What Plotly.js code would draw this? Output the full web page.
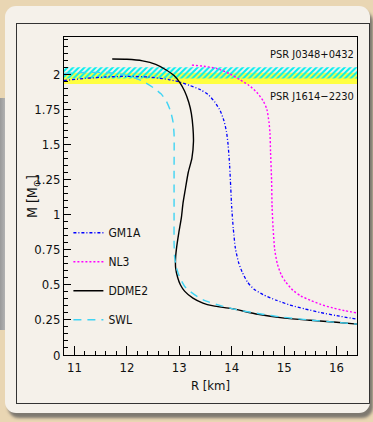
<!DOCTYPE html>
<html><head><meta charset="utf-8">
<script src="https://cdn.plot.ly/plotly-3.0.1.min.js"></script>
<style>
html,body{margin:0;padding:0;width:373px;height:422px;overflow:hidden;background:#e9d6b3;}
#strip{position:absolute;left:0;top:98px;width:9px;height:232px;background:linear-gradient(90deg,#9a9a9a,#c4c4c4);}
#panel{position:absolute;left:5px;top:6px;width:365px;height:407px;background:#f5f1ea;border-radius:11px;box-shadow:3px 5px 3px rgba(90,90,90,0.75);overflow:hidden;}
#frame{position:absolute;left:11px;top:17px;width:352px;height:379px;border:1.5px solid #333;}
#chart{position:absolute;left:0;top:0;width:373px;height:422px;}
</style></head><body>
<div id="strip"></div>
<div id="panel"><div id="frame"></div></div>
<div id="chart"></div>
<script>
// Data
const gm1aR = [10.8,11.2,11.6,12.0,12.4,12.8,13.0,13.2,13.4,13.55,13.68,13.78,13.85,13.9,13.93,13.96,13.98,14.0,14.03,14.07,14.13,14.2,14.3,14.42,14.6,14.85,15.11,15.4,15.7,16.0,16.39];
const gm1aM = [1.955,1.97,1.98,1.985,1.98,1.962,1.945,1.92,1.89,1.855,1.80,1.74,1.67,1.59,1.50,1.35,1.2,1.05,0.9,0.76,0.66,0.59,0.52,0.47,0.43,0.39,0.356,0.328,0.302,0.28,0.256];
const nl3R = [13.24,13.5,13.72,13.95,14.16,14.33,14.48,14.6,14.67,14.71,14.73,14.74,14.76,14.77,14.79,14.82,14.87,14.94,15.03,15.17,15.32,15.5,15.7,15.93,16.15,16.39];
const nl3M = [2.065,2.055,2.04,2.005,1.96,1.92,1.87,1.81,1.75,1.66,1.58,1.45,1.25,1.05,0.9,0.75,0.65,0.575,0.52,0.46,0.42,0.39,0.36,0.335,0.316,0.30];
const ddme2R = [11.72,12.0,12.3,12.55,12.75,12.9,13.01,13.1,13.18,13.23,13.26,13.27,13.24,13.17,13.11,13.07,13.04,12.99,12.95,12.93,12.93,12.97,13.02,13.1,13.26,13.45,13.65,14.0,14.5,15.0,15.5,16.0,16.39];
const ddme2M = [2.108,2.106,2.095,2.07,2.03,1.99,1.94,1.88,1.80,1.72,1.62,1.52,1.40,1.30,1.17,1.08,0.98,0.87,0.77,0.70,0.62,0.55,0.50,0.455,0.405,0.37,0.35,0.33,0.29,0.263,0.247,0.233,0.22];
const swlR = [10.8,11.2,11.6,11.9,12.1,12.3,12.5,12.65,12.75,12.83,12.88,12.9,12.9,12.9,12.9,12.91,12.94,13.0,13.1,13.2,13.35,13.5,13.82,14.1,14.5,15.0,15.5,16.0,16.39];
const swlM = [2.005,2.012,2.012,2.0,1.98,1.95,1.905,1.86,1.81,1.74,1.66,1.57,1.3,1.0,0.8,0.7,0.63,0.56,0.49,0.455,0.415,0.385,0.348,0.322,0.296,0.268,0.249,0.233,0.22];
// Pulsar mass constraints (M, error)
const psrJ0348 = [2.01, 0.04];
const psrJ1614 = [1.97, 0.04];
const xRange = [10.8, 16.39];
const yRange = [0, 2.265];
const yTicks = [0,0.25,0.5,0.75,1,1.25,1.5,1.75,2];
const xTicks = [11,12,13,14,15,16];

const FONT = '"Liberation Sans Narrow","Arial Narrow","DejaVu Sans Condensed","Liberation Sans",sans-serif';

function band(c, color, pattern){
  const lo = c[0]-c[1], hi = c[0]+c[1];
  const t = {x:[xRange[0],xRange[1],xRange[1],xRange[0],xRange[0]], y:[lo,lo,hi,hi,lo],
    mode:'none', fill:'toself', showlegend:false, hoverinfo:'skip'};
  if(pattern){ t.fillcolor='rgba(0,0,0,0)'; t.fillpattern={shape:'/',fgcolor:color,bgcolor:'rgba(0,0,0,0)',size:4,solidity:0.5}; }
  else t.fillcolor=color;
  return t;
}
const SM = {shape:'spline',smoothing:0.6};
const traces = [
  band(psrJ1614,'#ffff40',false),
  band(psrJ0348,'#00f0f0',true),
  {x:gm1aR,y:gm1aM,name:'GM1A',mode:'lines',line:Object.assign({color:'#0000ff',width:1.3,dash:'3px,2px,1px,2px'},SM),legendgroup:'a'},
  {x:nl3R,y:nl3M,name:'NL3',mode:'lines',line:Object.assign({color:'#ff00ff',width:1.4,dash:'2px,2px'},SM),legendgroup:'b'},
  {x:ddme2R,y:ddme2M,name:'DDME2',mode:'lines',line:Object.assign({color:'#000000',width:1.4},SM),legendgroup:'c'},
  {x:swlR,y:swlM,name:'SWL',mode:'lines',line:Object.assign({color:'#40d4f4',width:1.4,dash:'8px,6px'},SM),legendgroup:'d'}
];

const layout = {
  width:373,height:422,
  margin:{l:64,r:16,t:37,b:67},
  paper_bgcolor:'rgba(0,0,0,0)',plot_bgcolor:'rgba(0,0,0,0)',
  font:{family:FONT,size:13,color:'#111'},
  showlegend:true,
  legend:{x:0.015,y:0.43,xanchor:'left',yanchor:'top',bgcolor:'rgba(0,0,0,0)',tracegroupgap:10,font:{family:FONT,size:12},traceorder:'grouped'},
  xaxis:{range:xRange,tickvals:xTicks,ticks:'inside',ticklen:9,tickwidth:1,tickcolor:'#000',
    showline:true,linecolor:'#000',linewidth:1,mirror:true,showgrid:false,zeroline:false,
    minor:{dtick:0.2,ticks:'inside',ticklen:4,tickcolor:'#000',showgrid:false},
    tickfont:{family:FONT,size:13},
    title:{text:'R [km]',font:{family:FONT,size:13},standoff:7}},
  yaxis:{range:yRange,tickvals:yTicks,ticks:'inside',ticklen:7,tickwidth:1,tickcolor:'#000',
    showline:true,linecolor:'#000',linewidth:1,mirror:true,showgrid:false,zeroline:false,
    minor:{dtick:0.05,ticks:'inside',ticklen:3.5,tickcolor:'#000',showgrid:false},
    tickfont:{family:FONT,size:13}},
  annotations:[
    {xref:'paper',yref:'y',x:0.995,y:2.137,xanchor:'right',yanchor:'middle',showarrow:false,text:'PSR J0348+0432',font:{family:FONT,size:11}},
    {xref:'paper',yref:'y',x:0.995,y:1.838,xanchor:'right',yanchor:'middle',showarrow:false,text:'PSR J1614\u22122230',font:{family:FONT,size:11}},
    {xref:'paper',yref:'paper',x:-0.106,y:0.5,xanchor:'center',yanchor:'middle',showarrow:false,textangle:-90,text:'M [M<sub>\u2299</sub>]',font:{family:FONT,size:14}}
  ]
};
Plotly.newPlot('chart',traces,layout,{displayModeBar:false,staticPlot:true});
</script></body></html>
